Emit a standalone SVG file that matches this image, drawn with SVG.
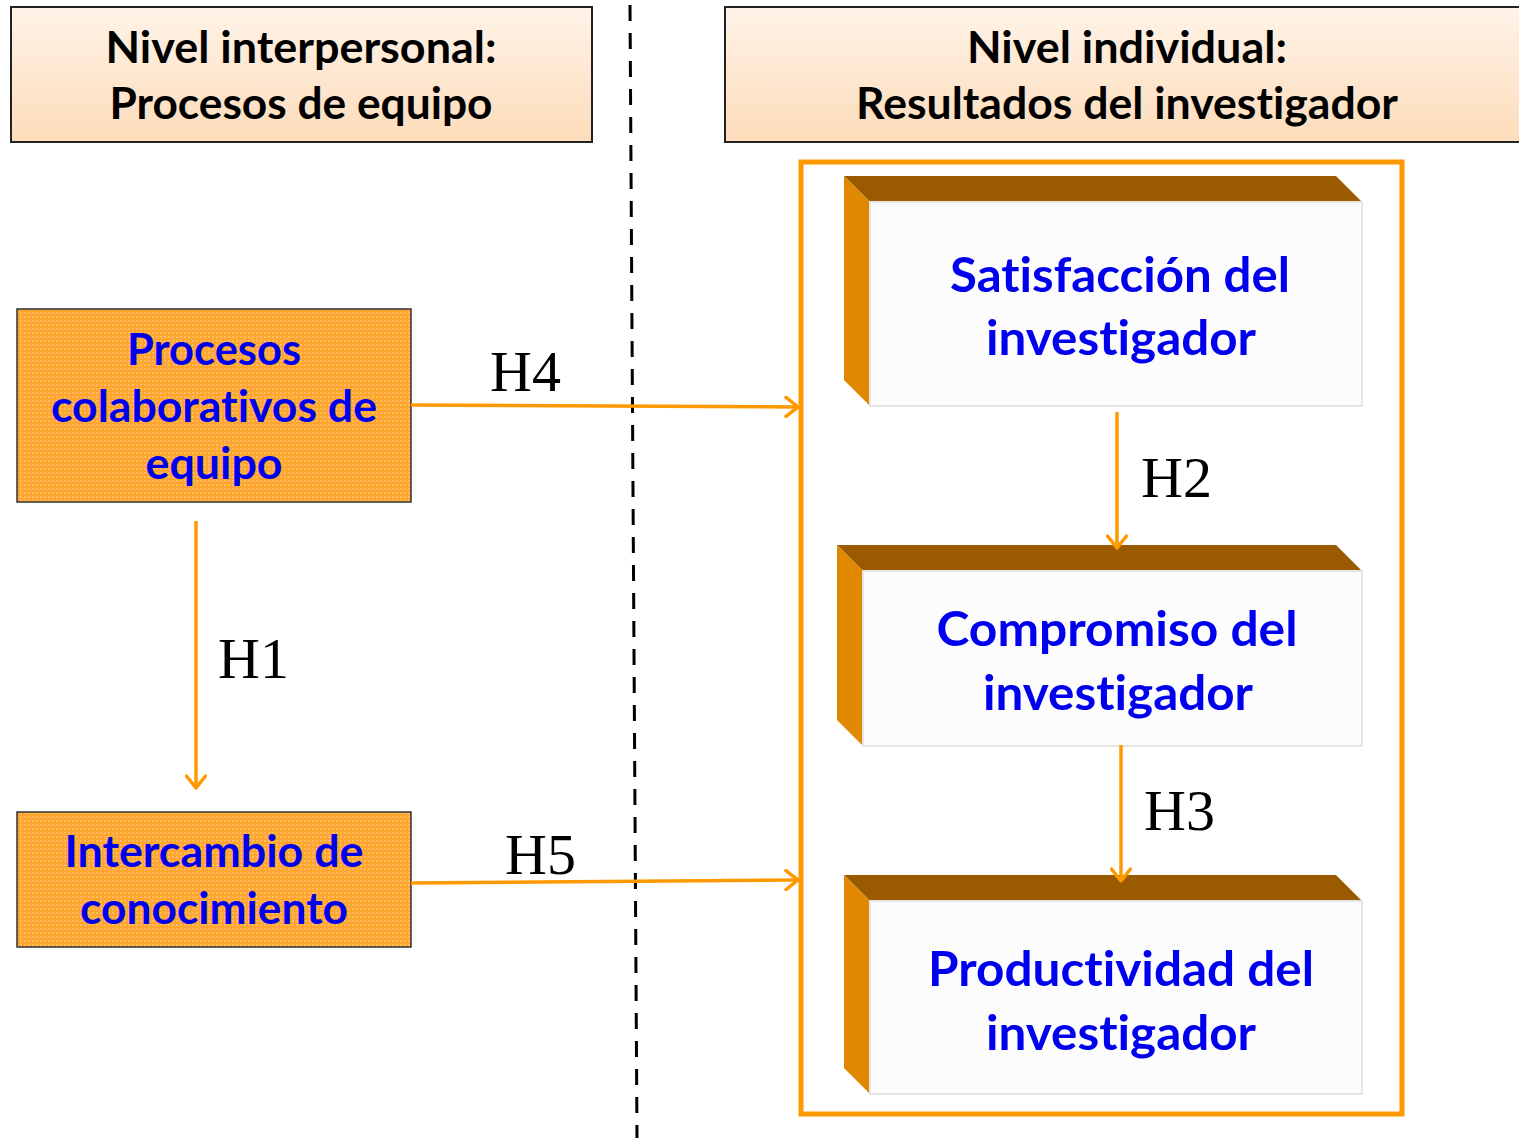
<svg xmlns="http://www.w3.org/2000/svg" width="1519" height="1138" viewBox="0 0 1519 1138">
<defs>
<linearGradient id="hdr" x1="0" y1="0" x2="0" y2="1">
<stop offset="0" stop-color="#fff3e8"/>
<stop offset="1" stop-color="#fddcba"/>
</linearGradient>
<pattern id="dots" width="4" height="4" patternUnits="userSpaceOnUse">
<rect width="4" height="4" fill="#ffa630"/>
<rect x="0" y="0" width="2" height="2" fill="#ffbb5c"/>
</pattern>
<marker id="arr" markerWidth="18" markerHeight="22" refX="14" refY="11" orient="auto" markerUnits="userSpaceOnUse">
<path d="M2,1.5 L14,11 L2,20.5" fill="none" stroke="#ff9900" stroke-width="3.5" stroke-linecap="round" stroke-linejoin="round"/>
</marker>
</defs>
<style>
text{font-variant-ligatures:none;font-feature-settings:"liga" 0, "clig" 0, "dlig" 0, "calt" 0}
.hdr{fill:url(#hdr);stroke:#222;stroke-width:2}
.hdrt{font-family:Lato,"Open Sans",sans-serif;font-weight:bold;font-size:44px;fill:#000;text-anchor:middle}
.node{fill:url(#dots);stroke:#333;stroke-width:1.5}
.nt{font-family:Lato,"Open Sans",sans-serif;font-weight:bold;font-size:44px;fill:#0000ee;text-anchor:middle}
.bt{font-family:Lato,"Open Sans",sans-serif;font-weight:bold;font-size:47px;fill:#0000ee;text-anchor:middle}
.top{fill:#995a00}
.side{fill:#e08800}
.face{fill:#fcfcfc;stroke:#e6e6e6;stroke-width:2}
.conn{stroke:#ff9900;stroke-width:3.5;fill:none}
.lab{font-family:"Liberation Serif","Times New Roman",serif;font-size:58px;fill:#000}
</style>
<rect width="1519" height="1138" fill="#ffffff"/>

<g id="header-left">
<rect class="hdr" x="11" y="7" width="581" height="135"/>
<text class="hdrt" x="301" y="63" textLength="391" lengthAdjust="spacingAndGlyphs">Nivel interpersonal:</text>
<text class="hdrt" x="301" y="119" textLength="383" lengthAdjust="spacingAndGlyphs">Procesos de equipo</text>
</g>
<g id="header-right">
<rect class="hdr" x="725" y="7" width="800" height="135"/>
<text class="hdrt" x="1127" y="63" textLength="320" lengthAdjust="spacingAndGlyphs">Nivel individual:</text>
<text class="hdrt" x="1127" y="119" textLength="542" lengthAdjust="spacingAndGlyphs">Resultados del investigador</text>
</g>

<g id="divider">
<line x1="630" y1="5" x2="637" y2="1138" stroke="#000" stroke-width="3" stroke-dasharray="16 12"/>
</g>

<g id="container">
<rect x="801" y="162" width="601" height="952" fill="none" stroke="#ff9900" stroke-width="5"/>
</g>

<g id="node-procesos">
<rect class="node" x="17" y="309" width="394" height="193"/>
<text class="nt" x="214" y="365" textLength="174" lengthAdjust="spacingAndGlyphs">Procesos</text>
<text class="nt" x="214" y="422" textLength="326" lengthAdjust="spacingAndGlyphs">colaborativos de</text>
<text class="nt" x="214" y="479" textLength="137" lengthAdjust="spacingAndGlyphs">equipo</text>
</g>

<g id="node-intercambio">
<rect class="node" x="17" y="812" width="394" height="135"/>
<text class="nt" x="214" y="867" textLength="299" lengthAdjust="spacingAndGlyphs">Intercambio de</text>
<text class="nt" x="214" y="924" textLength="268" lengthAdjust="spacingAndGlyphs">conocimiento</text>
</g>

<g id="node-satisfaccion">
<polygon class="top" points="844,176 1336,176 1362,202 870,202"/>
<polygon class="side" points="844,176 870,202 870,406 844,380"/>
<rect class="face" x="870" y="202" width="492" height="204"/>
<text class="bt" x="1120" y="292" textLength="340" lengthAdjust="spacingAndGlyphs">Satisfacción del</text>
<text class="bt" x="1121" y="355" textLength="270" lengthAdjust="spacingAndGlyphs">investigador</text>
</g>

<g id="node-compromiso">
<polygon class="top" points="837,545 1336,545 1362,571 863,571"/>
<polygon class="side" points="837,545 863,571 863,746 837,720"/>
<rect class="face" x="863" y="571" width="499" height="175"/>
<text class="bt" x="1117" y="646" textLength="361" lengthAdjust="spacingAndGlyphs">Compromiso del</text>
<text class="bt" x="1118" y="710" textLength="270" lengthAdjust="spacingAndGlyphs">investigador</text>
</g>

<g id="node-productividad">
<polygon class="top" points="844,875 1336,875 1362,901 870,901"/>
<polygon class="side" points="844,875 870,901 870,1094 844,1068"/>
<rect class="face" x="870" y="901" width="492" height="193"/>
<text class="bt" x="1121" y="986" textLength="386" lengthAdjust="spacingAndGlyphs">Productividad del</text>
<text class="bt" x="1121" y="1050" textLength="270" lengthAdjust="spacingAndGlyphs">investigador</text>
</g>

<g id="connectors">
<line class="conn" x1="196" y1="521" x2="196" y2="788" marker-end="url(#arr)"/>
<line class="conn" x1="411" y1="405" x2="798" y2="407" marker-end="url(#arr)"/>
<line class="conn" x1="411" y1="883" x2="798" y2="880" marker-end="url(#arr)"/>
<line class="conn" x1="1117" y1="412" x2="1117" y2="548" marker-end="url(#arr)"/>
<line class="conn" x1="1121" y1="745" x2="1121" y2="881" marker-end="url(#arr)"/>
<text class="lab" x="218" y="678">H1</text>
<text class="lab" x="490" y="391">H4</text>
<text class="lab" x="505" y="874">H5</text>
<text class="lab" x="1141" y="497">H2</text>
<text class="lab" x="1144" y="830">H3</text>
</g>
</svg>
